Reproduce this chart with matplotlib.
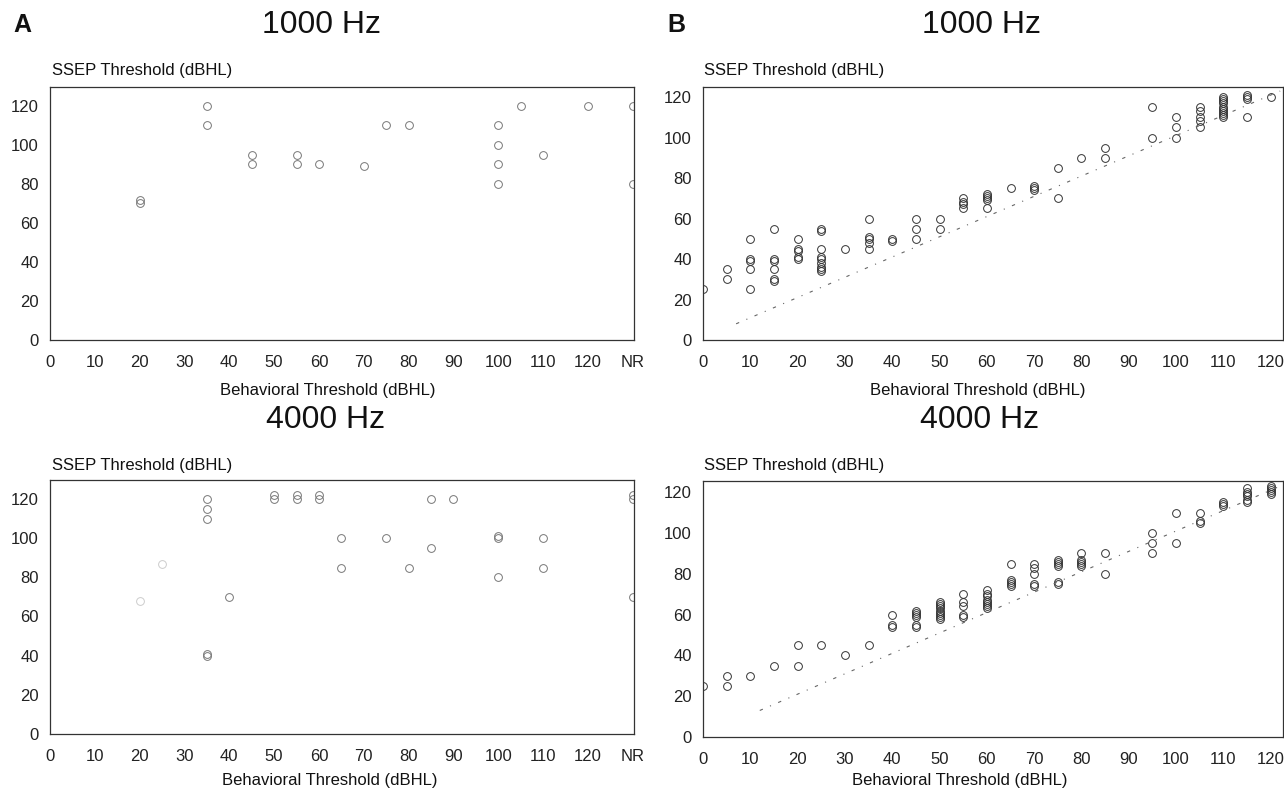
import matplotlib
matplotlib.use("Agg")
import matplotlib.pyplot as plt

plt.rcParams["font.family"] = ["Liberation Sans", "DejaVu Sans"]

# ---- panel A: 1000 Hz (x = 130 stands for NR) ----
a1k_x = [20, 20, 35, 35, 45, 45, 55, 55, 60, 70, 75, 80,
         100, 100, 100, 100, 105, 110, 120, 130, 130]
a1k_y = [70, 72, 120, 110, 95, 90, 95, 90, 90, 89, 110, 110,
         110, 100, 90, 80, 120, 95, 120, 120, 80]

# ---- panel A: 4000 Hz ----
a4k_x = [35, 35, 35, 35, 35, 40, 50, 50, 55, 55, 60, 60, 65, 65, 75, 80,
         85, 85, 90, 100, 100, 100, 110, 110, 130, 130, 130]
a4k_y = [120, 115, 110, 40, 41, 70, 120, 122, 120, 122, 120, 122, 100, 85, 100, 85,
         120, 95, 120, 100, 101, 80, 100, 85, 120, 122, 70]
a4k_faint_x = [20, 25]
a4k_faint_y = [68, 87]

# ---- panel B: 1000 Hz, behavioral columns and SSEP values in each ----
b1k_cols = [0, 5, 10, 15, 20, 25, 30, 35, 40, 45, 50, 55, 60, 65, 70, 75, 80, 85,
            95, 100, 105, 110, 115, 120]
b1k_vals = [[25], [35, 30], [50, 40, 39, 35, 25], [55, 40, 39, 35, 30, 29],
            [50, 45, 44, 41, 40], [55, 54, 45, 41, 40, 38, 36, 35, 34], [45],
            [60, 51, 50, 48, 45], [50, 49], [60, 55, 50], [60, 55], [70, 68, 67, 65],
            [72, 71, 70, 69, 65], [75], [76, 75, 74], [85, 70], [90], [95, 90],
            [115, 100], [110, 105, 100], [115, 113, 110, 108, 105],
            [120, 119, 118, 117, 115, 114, 113, 112, 111, 110], [121, 120, 119, 110], [120]]

# ---- panel B: 4000 Hz ----
b4k_cols = [0, 5, 10, 15, 20, 25, 30, 35, 40, 45, 50, 55, 60, 65, 70, 75, 80, 85,
            95, 100, 105, 110, 115, 120]
b4k_vals = [[25], [30, 25], [30], [35], [45, 35], [45], [40], [45], [60, 55, 54],
            [62, 61, 60, 59, 55, 54], [66, 65, 64, 63, 62, 61, 60, 59, 58],
            [70, 66, 64, 60, 59], [72, 70, 69, 67, 66, 65, 64, 63], [85, 77, 76, 75, 74],
            [85, 83, 80, 75, 74], [87, 86, 85, 84, 76, 75], [90, 87, 86, 85, 84], [90, 80],
            [100, 95, 90], [110, 95], [110, 106, 105], [115, 114, 113],
            [122, 120, 119, 118, 116, 115], [123, 122, 121, 120, 119]]

# fitted lines (slope, intercept) and x range
fit_1k = [1.0, 1.0]
fit_1k_x = [7, 122]
fit_4k = [1.0, 1.0]
fit_4k_x = [12, 123]

a_ticks = list(range(0, 130, 10)) + [130]
a_ticklabels = [str(t) for t in range(0, 130, 10)] + ["NR"]
b_ticks = list(range(0, 130, 10))
y_ticks = list(range(0, 121, 20))

W, H = 1284, 798


def box(l, t, r, b):
    return [l / W, 1 - b / H, (r - l) / W, (b - t) / H]


def flat(cols, vals):
    xs, ys = [], []
    for c, v in zip(cols, vals):
        xs += [c] * len(v)
        ys += v
    return xs, ys


def style(ax, xmax, ymax, ticks, labels):
    ax.set_xlim(0, xmax)
    ax.set_ylim(0, ymax)
    ax.set_xticks(ticks)
    ax.set_xticklabels(labels)
    ax.set_yticks(y_ticks)
    ax.tick_params(length=0, labelsize=12, colors="#222")
    ax.tick_params(axis="x", pad=11)
    ax.tick_params(axis="y", pad=8)
    for s in ax.spines.values():
        s.set_linewidth(0.9)
        s.set_color("#333")


def text(px, py, s, size, **kw):
    fig.text(px / W, 1 - py / H, s, fontsize=size, color="#111", va="center", **kw)


fig = plt.figure(figsize=(W / 100, H / 100), dpi=100)

ax_a1 = fig.add_axes(box(50, 87, 634, 340))
ax_b1 = fig.add_axes(box(703, 87, 1283, 340))
ax_a4 = fig.add_axes(box(50, 480, 634, 734))
ax_b4 = fig.add_axes(box(703, 481, 1283, 737))

mk = dict(ls="none", marker="o", mfc="none", ms=5.6, mew=0.7)

ax_a1.plot(a1k_x, a1k_y, mec="#777", **mk)
ax_a4.plot(a4k_x, a4k_y, mec="#777", **mk)
ax_a4.plot(a4k_faint_x, a4k_faint_y, mec="#ccc", **mk)

for ax, cols, vals, fit, fx in [(ax_b1, b1k_cols, b1k_vals, fit_1k, fit_1k_x),
                                (ax_b4, b4k_cols, b4k_vals, fit_4k, fit_4k_x)]:
    xs, ys = flat(cols, vals)
    ax.plot(xs, ys, mec="#333", **mk)
    ax.plot(fx, [fit[0] * v + fit[1] for v in fx], color="#666", lw=0.8,
            ls=(0, (3, 7, 1, 7)))

style(ax_a1, 130.3, 129.7, a_ticks, a_ticklabels)
style(ax_a4, 130.3, 129.7, a_ticks, a_ticklabels)
style(ax_b1, 122.6, 125, b_ticks, [str(t) for t in b_ticks])
style(ax_b4, 122.6, 125.5, b_ticks, [str(t) for t in b_ticks])

# panel letters and titles
text(13, 25, "A", 18, fontweight="bold")
text(667, 25, "B", 18, fontweight="bold")
text(322, 25, "1000 Hz", 23, ha="center")
text(982, 25, "1000 Hz", 23, ha="center")
text(326, 420, "4000 Hz", 23, ha="center")
text(980, 420, "4000 Hz", 23, ha="center")

# axis titles
for px, py in [(52, 70), (704, 70), (52, 465), (704, 465)]:
    text(px, py, "SSEP Threshold (dBHL)", 12, ha="left")
for px, py in [(328, 390), (978, 390), (330, 780), (960, 780)]:
    text(px, py, "Behavioral Threshold (dBHL)", 12, ha="center")

fig.savefig("out.png", dpi=100)
